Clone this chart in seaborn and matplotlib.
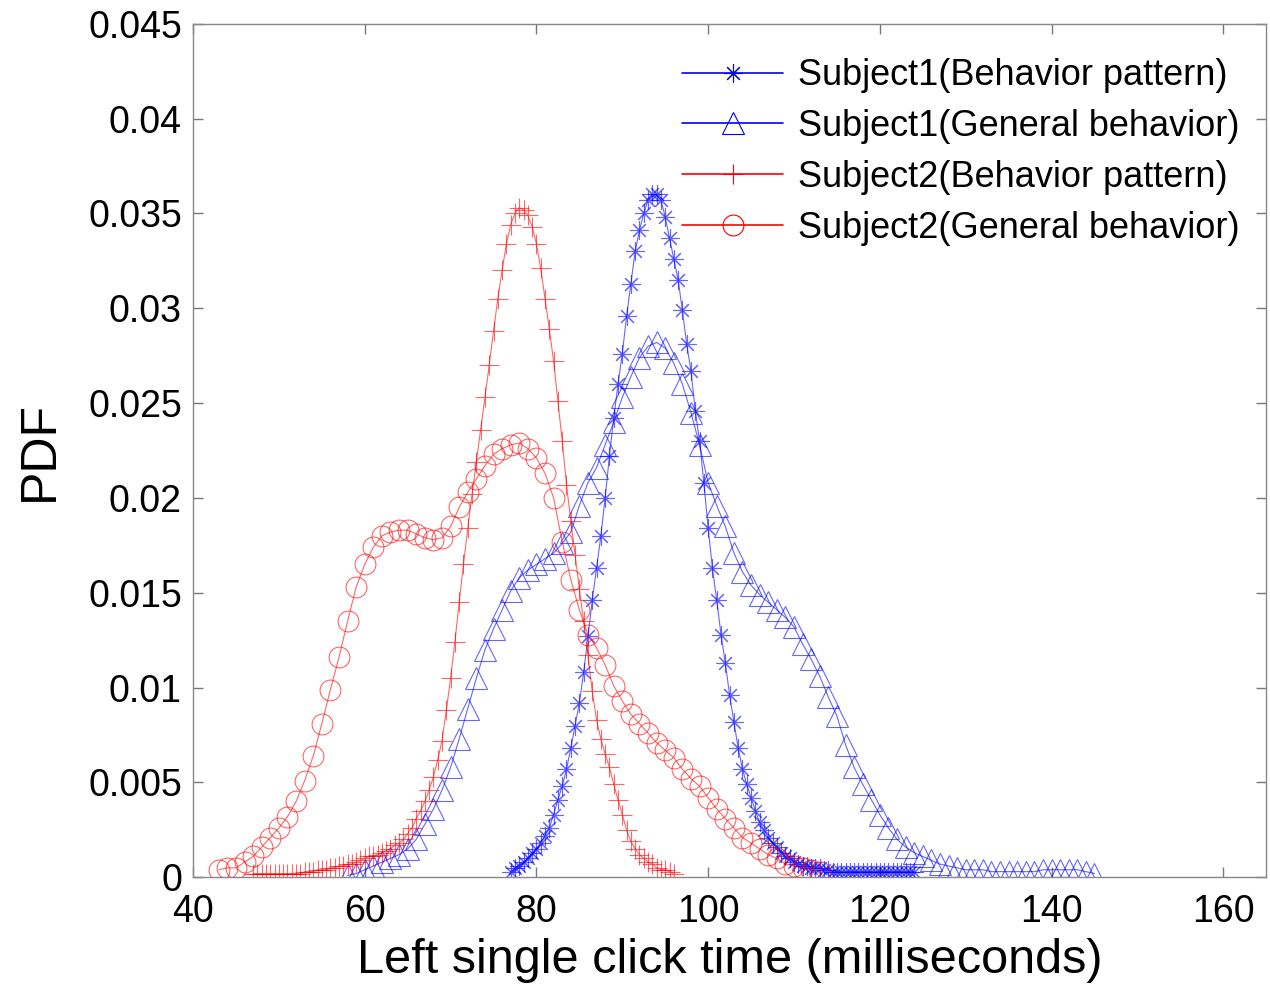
"""Click-time PDF curves for two subjects (behavior pattern vs general behavior)."""

import matplotlib
matplotlib.use("Agg")
import matplotlib.pyplot as plt
import seaborn as sns

# Subject1 (Behavior pattern) - asterisk markers
s1_pattern_x = [
    77.0, 77.5, 78.0, 78.5, 79.0, 79.5, 80.0, 80.5, 81.0, 81.5, 82.0, 82.5,
    83.0, 83.5, 84.0, 84.5, 85.0, 85.5, 86.0, 86.5, 87.0, 87.5, 88.0, 88.5,
    89.0, 89.5, 90.0, 90.5, 91.0, 91.5, 92.0, 92.5, 93.0, 93.5, 94.0, 94.5,
    95.0, 95.5, 96.0, 96.5, 97.0, 97.5, 98.0, 98.5, 99.0, 99.5, 100.0, 100.5,
    101.0, 101.5, 102.0, 102.5, 103.0, 103.5, 104.0, 104.5, 105.0, 105.5,
    106.0, 106.5, 107.0, 107.5, 108.0, 108.5, 109.0, 109.5, 110.0, 110.5,
    111.0, 111.5, 112.0, 112.5, 113.0, 113.5, 114.0, 114.5, 115.0, 115.5,
    116.0, 116.5, 117.0, 117.5, 118.0, 118.5, 119.0, 119.5, 120.0, 120.5,
    121.0, 121.5, 122.0, 122.5, 123.0, 123.5, 124.0,
]
s1_pattern_y = [
    .0003, .0005, .0006, .0008, .0010, .0013, .0015, .0018,
    .0022, .0026, .0033, .0041, .0048, .0057, .0068, .0080,
    .0092, .0108, .0127, .0146, .0163, .0180, .0200, .0222,
    .0242, .0260, .0276, .0296, .0313, .0330, .0341, .0350,
    .0357, .0360, .0360, .0357, .0348, .0337, .0326, .0315,
    .0299, .0281, .0267, .0246, .0230, .0208, .0184, .0163,
    .0146, .0128, .0113, .0096, .0082, .0068, .0057, .0049,
    .0042, .0035, .0029, .0025, .0021, .0018, .0016, .0013,
    .0011, .0010, .0008, .0007, .0006, .0006, .0005, .0005,
    .0005, .0004, .0004, .0003, .0003, .0003, .0003, .0003,
    .0003, .0003, .0003, .0003, .0003, .0003, .0003, .0003,
    .0003, .0003, .0003, .0003, .0003, .0003, .0003,
]

# Subject1 (General behavior) - triangle markers
s1_general_x = [
    58, 59, 60, 61, 62, 63, 64, 65, 66, 67, 68, 69, 70, 71, 72, 73, 74, 75,
    76, 77, 78, 79, 80, 81, 82, 83, 84, 85, 86, 87, 88, 89, 90, 91, 92, 93,
    94, 95, 96, 97, 98, 99, 100, 101, 102, 103, 104, 105, 106, 107, 108, 109,
    110, 111, 112, 113, 114, 115, 116, 117, 118, 119, 120, 121, 122, 123, 124,
    125, 126, 127, 128, 129, 130, 131, 132, 133, 134, 135, 136, 137, 138, 139,
    140, 141, 142, 143, 144, 145,
]
s1_general_y = [
    .0001, .0002, .0004, .0006, .0008, .0010, .0012, .0015, .0020, .0028,
    .0036, .0046, .0058, .0073, .0089, .0105, .0120, .0131, .0141, .0151,
    .0158, .0162, .0165, .0168, .0171, .0176, .0182, .0196, .0208, .0216,
    .0228, .0240, .0253, .0264, .0274, .0280, .0282, .0279, .0271, .0260,
    .0245, .0228, .0208, .0196, .0185, .0171, .0161, .0154, .0149, .0145,
    .0141, .0137, .0132, .0123, .0115, .0106, .0095, .0085, .0070, .0058,
    .0049, .0041, .0033, .0026, .0020, .0016, .0013, .0011, .0009, .0007,
    .0006, .0005, .0004, .0004, .0004, .0003, .0003, .0003, .0003, .0003,
    .0003, .0004, .0004, .0004, .0004, .0004, .0003, .0002,
]

# Subject2 (Behavior pattern) - plus markers
s2_pattern_x = [
    47.0, 47.5, 48.0, 48.5, 49.0, 49.5, 50.0, 50.5, 51.0, 51.5, 52.0, 52.5,
    53.0, 53.5, 54.0, 54.5, 55.0, 55.5, 56.0, 56.5, 57.0, 57.5, 58.0, 58.5,
    59.0, 59.5, 60.0, 60.5, 61.0, 61.5, 62.0, 62.5, 63.0, 63.5, 64.0, 64.5,
    65.0, 65.5, 66.0, 66.5, 67.0, 67.5, 68.0, 68.5, 69.0, 69.5, 70.0, 70.5,
    71.0, 71.5, 72.0, 72.5, 73.0, 73.5, 74.0, 74.5, 75.0, 75.5, 76.0, 76.5,
    77.0, 77.5, 78.0, 78.5, 79.0, 79.5, 80.0, 80.5, 81.0, 81.5, 82.0, 82.5,
    83.0, 83.5, 84.0, 84.5, 85.0, 85.5, 86.0, 86.5, 87.0, 87.5, 88.0, 88.5,
    89.0, 89.5, 90.0, 90.5, 91.0, 91.5, 92.0, 92.5, 93.0, 93.5, 94.0, 94.5,
    95.0, 95.5, 96.0,
]
s2_pattern_y = [
    .0002, .0002, .0002, .0002, .0002, .0002, .0002, .0002, .0002, .0002,
    .0002, .0002, .0003, .0003, .0003, .0004, .0004, .0004, .0005, .0005,
    .0006, .0006, .0007, .0007, .0008, .0009, .0010, .0011, .0011, .0012,
    .0013, .0014, .0015, .0017, .0018, .0020, .0023, .0026, .0031, .0035,
    .0040, .0046, .0053, .0062, .0072, .0088, .0105, .0124, .0145, .0165,
    .0184, .0202, .0219, .0236, .0253, .0270, .0288, .0305, .0320, .0334,
    .0344, .0350, .0353, .0352, .0349, .0343, .0334, .0321, .0305, .0289,
    .0272, .0251, .0230, .0207, .0188, .0170, .0152, .0135, .0117, .0098,
    .0083, .0073, .0065, .0058, .0049, .0041, .0033, .0025, .0019, .0015,
    .0012, .0010, .0008, .0007, .0005, .0004, .0004, .0003, .0002,
]

# Subject2 (General behavior) - circle markers
s2_general_x = [
    43, 44, 45, 46, 47, 48, 49, 50, 51, 52, 53, 54, 55, 56, 57, 58, 59, 60,
    61, 62, 63, 64, 65, 66, 67, 68, 69, 70, 71, 72, 73, 74, 75, 76, 77, 78,
    79, 80, 81, 82, 83, 84, 85, 86, 87, 88, 89, 90, 91, 92, 93, 94, 95, 96,
    97, 98, 99, 100, 101, 102, 103, 104, 105, 106, 107, 108, 109, 110, 111,
    112, 113,
]
s2_general_y = [
    .0004, .0005, .0005, .0008, .0011, .0016, .0021, .0026, .0032, .0040,
    .0051, .0064, .0081, .0099, .0116, .0135, .0153, .0165, .0174, .0180,
    .0182, .0183, .0183, .0181, .0179, .0178, .0179, .0185, .0195, .0203,
    .0210, .0217, .0223, .0226, .0228, .0229, .0226, .0221, .0213, .0200,
    .0177, .0157, .0141, .0128, .0121, .0112, .0101, .0093, .0086, .0081,
    .0076, .0071, .0067, .0063, .0057, .0052, .0048, .0042, .0036, .0031,
    .0026, .0021, .0018, .0015, .0012, .0010, .0007, .0006, .0005, .0004,
    .0003,
]

labels = [
    "Subject1(Behavior pattern)",
    "Subject1(General behavior)",
    "Subject2(Behavior pattern)",
    "Subject2(General behavior)",
]
x_ticks = [40, 60, 80, 100, 120, 140, 160]
y_ticks = [0, 0.005, 0.01, 0.015, 0.02, 0.025, 0.03, 0.035, 0.04, 0.045]
y_tick_labels = ["0", "0.005", "0.01", "0.015", "0.02", "0.025", "0.03",
                 "0.035", "0.04", "0.045"]

sns.set_theme(style="white")
plt.rcParams["font.family"] = ["Liberation Sans", "DejaVu Sans"]
plt.rcParams["text.color"] = "black"
plt.rcParams["axes.labelcolor"] = "black"

fig = plt.figure(figsize=(12.7, 9.88), dpi=100)
ax = fig.add_axes([0.152, 0.112, 0.845, 0.864])

BLUE = "#0000ff"
RED = "#ff0000"
series = [
    (s1_pattern_x, s1_pattern_y, BLUE, (8, 2, 0), 13),
    (s1_general_x, s1_general_y, BLUE, "^", 16),
    (s2_pattern_x, s2_pattern_y, RED, "+", 15),
    (s2_general_x, s2_general_y, RED, "o", 15),
]
for (xs, ys, col, mk, ms), lab in zip(series, labels):
    sns.lineplot(x=xs, y=ys, ax=ax, color=col, linewidth=0.8, alpha=0.6,
                 marker=mk, markersize=ms, markerfacecolor="none",
                 markeredgecolor=col, markeredgewidth=0.8, label=lab,
                 sort=False)

ax.set_xlim(40, 165)
ax.set_ylim(0, 0.045)
ax.set_xticks(x_ticks)
ax.set_xticklabels([str(t) for t in x_ticks])
ax.set_yticks(y_ticks)
ax.set_yticklabels(y_tick_labels)
ax.tick_params(direction="in", length=7, width=1, color="#777777",
               labelsize=27, labelcolor="black", top=True, right=True,
               bottom=True, left=True)
ax.tick_params(axis="x", pad=12)
ax.tick_params(axis="y", pad=8)
for sp in ax.spines.values():
    sp.set_color("#888888")
    sp.set_linewidth(1.0)

ax.set_xlabel("Left single click time (milliseconds)", fontsize=35, labelpad=6)
ax.set_ylabel("PDF", fontsize=36, labelpad=18)

leg = ax.legend(loc="upper right", bbox_to_anchor=(0.995, 0.985), frameon=False,
                fontsize=26, handlelength=2.8, handletextpad=0.4,
                labelspacing=0.44, borderaxespad=0.2, numpoints=1)
for h in leg.legend_handles:
    h.set_alpha(1.0)
    h.set_linewidth(1.2)

fig.savefig("out.png", dpi=100)
